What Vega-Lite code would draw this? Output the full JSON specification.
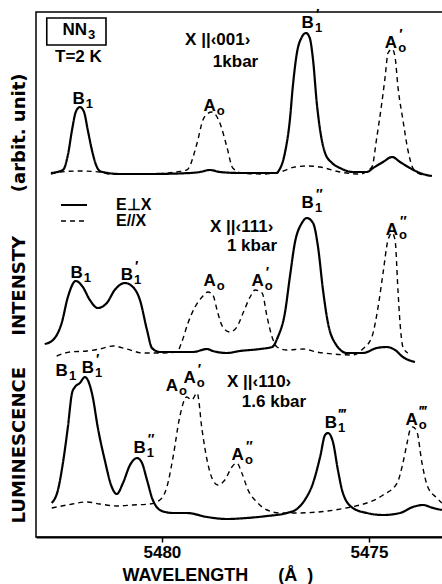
{
"$schema":"https://vega.github.io/schema/vega-lite/v6.json",
"width":410,"height":525,
"autosize":"none",
"padding":{"left":36,"top":12,"right":0,"bottom":47},
"background":"white",
"config":{"view":{"stroke":"black","strokeWidth":1.5},"font":"Liberation Sans",
"legend":{"orient":"none","legendX":30,"legendY":185,"title":null,"symbolType":"M-2,0L2,0","symbolSize":169,"symbolStrokeColor":"black","labelFontSize":16,"labelFont":"Liberation Sans","labelFontWeight":"bold","labelColor":"black","rowPadding":0,"padding":0}},
"datasets":{
"spectra":[
{"p":"a","pol":"E⊥X","w":5482.68,"i":364},{"p":"a","pol":"E⊥X","w":5482.39,"i":367},{"p":"a","pol":"E⊥X","w":5482.27,"i":382},{"p":"a","pol":"E⊥X","w":5482.17,"i":407},{"p":"a","pol":"E⊥X","w":5482.08,"i":425},{"p":"a","pol":"E⊥X","w":5481.98,"i":430},{"p":"a","pol":"E⊥X","w":5481.88,"i":425},{"p":"a","pol":"E⊥X","w":5481.79,"i":407},{"p":"a","pol":"E⊥X","w":5481.69,"i":387},{"p":"a","pol":"E⊥X","w":5481.59,"i":372},{"p":"a","pol":"E⊥X","w":5481.50,"i":366},{"p":"a","pol":"E⊥X","w":5481.30,"i":364},{"p":"a","pol":"E⊥X","w":5481.01,"i":363},{"p":"a","pol":"E⊥X","w":5480.29,"i":363},{"p":"a","pol":"E⊥X","w":5479.32,"i":364},{"p":"a","pol":"E⊥X","w":5479.08,"i":365},{"p":"a","pol":"E⊥X","w":5478.84,"i":367},{"p":"a","pol":"E⊥X","w":5478.60,"i":365},{"p":"a","pol":"E⊥X","w":5478.12,"i":364},{"p":"a","pol":"E⊥X","w":5477.22,"i":364},{"p":"a","pol":"E⊥X","w":5477.20,"i":365},{"p":"a","pol":"E⊥X","w":5477.03,"i":384},{"p":"a","pol":"E⊥X","w":5476.91,"i":417},{"p":"a","pol":"E⊥X","w":5476.84,"i":450},{"p":"a","pol":"E⊥X","w":5476.74,"i":484},{"p":"a","pol":"E⊥X","w":5476.62,"i":500},{"p":"a","pol":"E⊥X","w":5476.52,"i":504},{"p":"a","pol":"E⊥X","w":5476.43,"i":499},{"p":"a","pol":"E⊥X","w":5476.35,"i":477},{"p":"a","pol":"E⊥X","w":5476.26,"i":434},{"p":"a","pol":"E⊥X","w":5476.18,"i":407},{"p":"a","pol":"E⊥X","w":5476.06,"i":384},{"p":"a","pol":"E⊥X","w":5475.89,"i":374},{"p":"a","pol":"E⊥X","w":5475.70,"i":369},{"p":"a","pol":"E⊥X","w":5475.39,"i":365},{"p":"a","pol":"E⊥X","w":5475.05,"i":365},{"p":"a","pol":"E⊥X","w":5474.90,"i":369},{"p":"a","pol":"E⊥X","w":5474.66,"i":375},{"p":"a","pol":"E⊥X","w":5474.44,"i":380},{"p":"a","pol":"E⊥X","w":5474.25,"i":375},{"p":"a","pol":"E⊥X","w":5474.01,"i":369},{"p":"a","pol":"E⊥X","w":5473.77,"i":364},{"p":"a","pol":"E⊥X","w":5473.48,"i":361},
{"p":"a","pol":"E//X","w":5482.68,"i":363},{"p":"a","pol":"E//X","w":5482.46,"i":365},{"p":"a","pol":"E//X","w":5481.98,"i":366},{"p":"a","pol":"E//X","w":5481.50,"i":365},{"p":"a","pol":"E//X","w":5481.26,"i":363},{"p":"a","pol":"E//X","w":5480.29,"i":363},{"p":"a","pol":"E//X","w":5479.40,"i":367},{"p":"a","pol":"E//X","w":5479.15,"i":394},{"p":"a","pol":"E//X","w":5479.01,"i":417},{"p":"a","pol":"E//X","w":5478.91,"i":423},{"p":"a","pol":"E//X","w":5478.79,"i":425},{"p":"a","pol":"E//X","w":5478.60,"i":414},{"p":"a","pol":"E//X","w":5478.43,"i":390},{"p":"a","pol":"E//X","w":5478.29,"i":369},{"p":"a","pol":"E//X","w":5478.07,"i":364},{"p":"a","pol":"E//X","w":5477.58,"i":363},{"p":"a","pol":"E//X","w":5477.15,"i":365},{"p":"a","pol":"E//X","w":5476.79,"i":370},{"p":"a","pol":"E//X","w":5476.50,"i":371},{"p":"a","pol":"E//X","w":5476.18,"i":370},{"p":"a","pol":"E//X","w":5475.70,"i":365},{"p":"a","pol":"E//X","w":5475.22,"i":363},{"p":"a","pol":"E//X","w":5474.93,"i":370},{"p":"a","pol":"E//X","w":5474.81,"i":400},{"p":"a","pol":"E//X","w":5474.69,"i":434},{"p":"a","pol":"E//X","w":5474.61,"i":460},{"p":"a","pol":"E//X","w":5474.54,"i":484},{"p":"a","pol":"E//X","w":5474.44,"i":488},{"p":"a","pol":"E//X","w":5474.37,"i":480},{"p":"a","pol":"E//X","w":5474.30,"i":450},{"p":"a","pol":"E//X","w":5474.18,"i":417},{"p":"a","pol":"E//X","w":5474.06,"i":387},{"p":"a","pol":"E//X","w":5473.94,"i":369},{"p":"a","pol":"E//X","w":5473.77,"i":363},{"p":"a","pol":"E//X","w":5473.48,"i":361},
{"p":"b","pol":"E⊥X","w":5482.83,"i":193},{"p":"b","pol":"E⊥X","w":5482.63,"i":197},{"p":"b","pol":"E⊥X","w":5482.42,"i":214},{"p":"b","pol":"E⊥X","w":5482.27,"i":240},{"p":"b","pol":"E⊥X","w":5482.08,"i":256},{"p":"b","pol":"E⊥X","w":5481.91,"i":250},{"p":"b","pol":"E⊥X","w":5481.74,"i":237},{"p":"b","pol":"E⊥X","w":5481.55,"i":229},{"p":"b","pol":"E⊥X","w":5481.33,"i":234},{"p":"b","pol":"E⊥X","w":5481.14,"i":247},{"p":"b","pol":"E⊥X","w":5480.89,"i":254},{"p":"b","pol":"E⊥X","w":5480.70,"i":250},{"p":"b","pol":"E⊥X","w":5480.53,"i":237},{"p":"b","pol":"E⊥X","w":5480.36,"i":207},{"p":"b","pol":"E⊥X","w":5480.24,"i":189},{"p":"b","pol":"E⊥X","w":5480.05,"i":185},{"p":"b","pol":"E⊥X","w":5479.64,"i":185},{"p":"b","pol":"E⊥X","w":5479.25,"i":185},{"p":"b","pol":"E⊥X","w":5478.91,"i":188},{"p":"b","pol":"E⊥X","w":5478.77,"i":186},{"p":"b","pol":"E⊥X","w":5478.43,"i":184},{"p":"b","pol":"E⊥X","w":5478.12,"i":186},{"p":"b","pol":"E⊥X","w":5477.63,"i":188},{"p":"b","pol":"E⊥X","w":5477.34,"i":190},{"p":"b","pol":"E⊥X","w":5477.20,"i":200},{"p":"b","pol":"E⊥X","w":5477.03,"i":224},{"p":"b","pol":"E⊥X","w":5476.91,"i":260},{"p":"b","pol":"E⊥X","w":5476.79,"i":294},{"p":"b","pol":"E⊥X","w":5476.62,"i":314},{"p":"b","pol":"E⊥X","w":5476.50,"i":319},{"p":"b","pol":"E⊥X","w":5476.35,"i":314},{"p":"b","pol":"E⊥X","w":5476.23,"i":290},{"p":"b","pol":"E⊥X","w":5476.11,"i":247},{"p":"b","pol":"E⊥X","w":5475.99,"i":214},{"p":"b","pol":"E⊥X","w":5475.82,"i":194},{"p":"b","pol":"E⊥X","w":5475.53,"i":184},{"p":"b","pol":"E⊥X","w":5475.15,"i":184},{"p":"b","pol":"E⊥X","w":5474.81,"i":189},{"p":"b","pol":"E⊥X","w":5474.57,"i":190},{"p":"b","pol":"E⊥X","w":5474.37,"i":187},{"p":"b","pol":"E⊥X","w":5474.18,"i":180},{"p":"b","pol":"E⊥X","w":5473.89,"i":175},
{"p":"b","pol":"E//X","w":5482.54,"i":181},{"p":"b","pol":"E//X","w":5482.22,"i":185},{"p":"b","pol":"E//X","w":5481.81,"i":186},{"p":"b","pol":"E//X","w":5481.50,"i":188},{"p":"b","pol":"E//X","w":5481.18,"i":191},{"p":"b","pol":"E//X","w":5480.85,"i":188},{"p":"b","pol":"E//X","w":5480.46,"i":184},{"p":"b","pol":"E//X","w":5480.05,"i":184},{"p":"b","pol":"E//X","w":5479.64,"i":185},{"p":"b","pol":"E//X","w":5479.52,"i":195},{"p":"b","pol":"E//X","w":5479.37,"i":214},{"p":"b","pol":"E//X","w":5479.20,"i":230},{"p":"b","pol":"E//X","w":5479.03,"i":240},{"p":"b","pol":"E//X","w":5478.89,"i":245},{"p":"b","pol":"E//X","w":5478.77,"i":242},{"p":"b","pol":"E//X","w":5478.65,"i":224},{"p":"b","pol":"E//X","w":5478.53,"i":210},{"p":"b","pol":"E//X","w":5478.36,"i":205},{"p":"b","pol":"E//X","w":5478.19,"i":210},{"p":"b","pol":"E//X","w":5478.04,"i":224},{"p":"b","pol":"E//X","w":5477.87,"i":240},{"p":"b","pol":"E//X","w":5477.75,"i":247},{"p":"b","pol":"E//X","w":5477.58,"i":244},{"p":"b","pol":"E//X","w":5477.46,"i":220},{"p":"b","pol":"E//X","w":5477.34,"i":200},{"p":"b","pol":"E//X","w":5477.22,"i":190},{"p":"b","pol":"E//X","w":5476.98,"i":187},{"p":"b","pol":"E//X","w":5476.59,"i":188},{"p":"b","pol":"E//X","w":5476.26,"i":185},{"p":"b","pol":"E//X","w":5475.87,"i":183},{"p":"b","pol":"E//X","w":5475.39,"i":182},{"p":"b","pol":"E//X","w":5475.15,"i":188},{"p":"b","pol":"E//X","w":5474.93,"i":200},{"p":"b","pol":"E//X","w":5474.78,"i":230},{"p":"b","pol":"E//X","w":5474.66,"i":264},{"p":"b","pol":"E//X","w":5474.54,"i":297},{"p":"b","pol":"E//X","w":5474.44,"i":304},{"p":"b","pol":"E//X","w":5474.37,"i":297},{"p":"b","pol":"E//X","w":5474.30,"i":247},{"p":"b","pol":"E//X","w":5474.25,"i":214},{"p":"b","pol":"E//X","w":5474.18,"i":190},{"p":"b","pol":"E//X","w":5474.06,"i":184},
{"p":"c","pol":"E⊥X","w":5482.66,"i":34},{"p":"c","pol":"E⊥X","w":5482.51,"i":47},{"p":"c","pol":"E⊥X","w":5482.39,"i":74},{"p":"c","pol":"E⊥X","w":5482.27,"i":110},{"p":"c","pol":"E⊥X","w":5482.17,"i":144},{"p":"c","pol":"E⊥X","w":5482.10,"i":150},{"p":"c","pol":"E⊥X","w":5481.98,"i":154},{"p":"c","pol":"E⊥X","w":5481.86,"i":160},{"p":"c","pol":"E⊥X","w":5481.79,"i":157},{"p":"c","pol":"E⊥X","w":5481.67,"i":140},{"p":"c","pol":"E⊥X","w":5481.55,"i":110},{"p":"c","pol":"E⊥X","w":5481.38,"i":77},{"p":"c","pol":"E⊥X","w":5481.21,"i":50},{"p":"c","pol":"E⊥X","w":5481.09,"i":43},{"p":"c","pol":"E⊥X","w":5480.94,"i":54},{"p":"c","pol":"E⊥X","w":5480.77,"i":72},{"p":"c","pol":"E⊥X","w":5480.60,"i":79},{"p":"c","pol":"E⊥X","w":5480.48,"i":74},{"p":"c","pol":"E⊥X","w":5480.36,"i":57},{"p":"c","pol":"E⊥X","w":5480.22,"i":37},{"p":"c","pol":"E⊥X","w":5480.00,"i":26},{"p":"c","pol":"E⊥X","w":5479.73,"i":24},{"p":"c","pol":"E⊥X","w":5479.40,"i":24},{"p":"c","pol":"E⊥X","w":5478.91,"i":20},{"p":"c","pol":"E⊥X","w":5478.43,"i":18},{"p":"c","pol":"E⊥X","w":5477.95,"i":19},{"p":"c","pol":"E⊥X","w":5477.46,"i":21},{"p":"c","pol":"E⊥X","w":5476.98,"i":24},{"p":"c","pol":"E⊥X","w":5476.74,"i":28},{"p":"c","pol":"E⊥X","w":5476.55,"i":37},{"p":"c","pol":"E⊥X","w":5476.35,"i":54},{"p":"c","pol":"E⊥X","w":5476.18,"i":80},{"p":"c","pol":"E⊥X","w":5476.06,"i":102},{"p":"c","pol":"E⊥X","w":5475.99,"i":104},{"p":"c","pol":"E⊥X","w":5475.87,"i":95},{"p":"c","pol":"E⊥X","w":5475.75,"i":67},{"p":"c","pol":"E⊥X","w":5475.63,"i":44},{"p":"c","pol":"E⊥X","w":5475.39,"i":29},{"p":"c","pol":"E⊥X","w":5475.05,"i":24},{"p":"c","pol":"E⊥X","w":5474.66,"i":22},{"p":"c","pol":"E⊥X","w":5474.25,"i":24},{"p":"c","pol":"E⊥X","w":5473.94,"i":30},{"p":"c","pol":"E⊥X","w":5473.70,"i":32},{"p":"c","pol":"E⊥X","w":5473.45,"i":29},{"p":"c","pol":"E⊥X","w":5473.24,"i":27},
{"p":"c","pol":"E//X","w":5482.66,"i":29},{"p":"c","pol":"E//X","w":5482.29,"i":32},{"p":"c","pol":"E//X","w":5481.81,"i":35},{"p":"c","pol":"E//X","w":5481.50,"i":33},{"p":"c","pol":"E//X","w":5481.09,"i":31},{"p":"c","pol":"E//X","w":5480.70,"i":32},{"p":"c","pol":"E//X","w":5480.29,"i":33},{"p":"c","pol":"E//X","w":5480.05,"i":37},{"p":"c","pol":"E//X","w":5479.88,"i":50},{"p":"c","pol":"E//X","w":5479.73,"i":80},{"p":"c","pol":"E//X","w":5479.57,"i":120},{"p":"c","pol":"E//X","w":5479.40,"i":140},{"p":"c","pol":"E//X","w":5479.28,"i":137},{"p":"c","pol":"E//X","w":5479.15,"i":144},{"p":"c","pol":"E//X","w":5479.03,"i":107},{"p":"c","pol":"E//X","w":5478.91,"i":77},{"p":"c","pol":"E//X","w":5478.77,"i":57},{"p":"c","pol":"E//X","w":5478.65,"i":52},{"p":"c","pol":"E//X","w":5478.48,"i":57},{"p":"c","pol":"E//X","w":5478.31,"i":70},{"p":"c","pol":"E//X","w":5478.19,"i":74},{"p":"c","pol":"E//X","w":5478.07,"i":64},{"p":"c","pol":"E//X","w":5477.92,"i":47},{"p":"c","pol":"E//X","w":5477.71,"i":35},{"p":"c","pol":"E//X","w":5477.46,"i":27},{"p":"c","pol":"E//X","w":5477.15,"i":24},{"p":"c","pol":"E//X","w":5476.79,"i":24},{"p":"c","pol":"E//X","w":5475.22,"i":32},{"p":"c","pol":"E//X","w":5474.66,"i":42},{"p":"c","pol":"E//X","w":5474.32,"i":54},{"p":"c","pol":"E//X","w":5474.18,"i":74},{"p":"c","pol":"E//X","w":5474.08,"i":94},{"p":"c","pol":"E//X","w":5474.01,"i":107},{"p":"c","pol":"E//X","w":5473.94,"i":110},{"p":"c","pol":"E//X","w":5473.84,"i":105},{"p":"c","pol":"E//X","w":5473.72,"i":74},{"p":"c","pol":"E//X","w":5473.58,"i":50},{"p":"c","pol":"E//X","w":5473.36,"i":39},{"p":"c","pol":"E//X","w":5473.24,"i":34}
],
"labels":[
{"w":5481.86,"i":438,"m":"B","s":"1","pr":""},
{"w":5478.70,"i":431,"m":"A","s":"o","pr":""},
{"w":5476.33,"i":514,"m":"B","s":"1","pr":"′"},
{"w":5474.32,"i":494,"m":"A","s":"o","pr":"′"},
{"w":5481.91,"i":264,"m":"B","s":"1","pr":""},
{"w":5480.70,"i":262,"m":"B","s":"1","pr":"′"},
{"w":5478.70,"i":256,"m":"A","s":"o","pr":""},
{"w":5477.54,"i":256,"m":"A","s":"o","pr":"′"},
{"w":5476.33,"i":334,"m":"B","s":"1","pr":"″"},
{"w":5474.30,"i":307,"m":"A","s":"o","pr":"″"},
{"w":5482.27,"i":166,"m":"B","s":"1","pr":""},
{"w":5481.64,"i":169,"m":"B","s":"1","pr":"′"},
{"w":5479.61,"i":151,"m":"A","s":"o","pr":""},
{"w":5479.18,"i":159,"m":"A","s":"o","pr":"′"},
{"w":5480.39,"i":89,"m":"B","s":"1","pr":"″"},
{"w":5478.02,"i":82,"m":"A","s":"o","pr":"″"},
{"w":5475.77,"i":114,"m":"B","s":"1","pr":"‴"},
{"w":5473.82,"i":117,"m":"A","s":"o","pr":"‴"},
{"w":5481.81,"i":507,"m":"NN","s":"3","pr":""}
],
"notes":[
{"w":5479.44,"i":497,"t":"X ||‹001›"},
{"w":5478.77,"i":475,"t":"1kbar"},
{"w":5482.58,"i":480,"t":"T=2 K"},
{"w":5478.84,"i":310,"t":"X ||‹111›"},
{"w":5478.43,"i":291,"t":"1 kbar"},
{"w":5478.43,"i":155,"t":"X ||‹110›"},
{"w":5478.07,"i":135,"t":"1.6 kbar"}
],
"box":[{"w":5482.78,"w2":5481.35,"i":492,"i2":519}]
},
"encoding":{
"x":{"field":"w","type":"quantitative","scale":{"domain":[5473.14,5483.04],"reverse":true,"nice":false,"zero":false},
"axis":{"values":[5480,5475],"format":"d","grid":false,"title":"WAVELENGTH\u00a0\u00a0\u00a0\u00a0\u00a0\u00a0(Å\u00a0\u00a0)","titleFont":"Liberation Sans","titleFontSize":18,"titleFontWeight":"bold","titleColor":"black","titleX":86,"titleY":38,"titleAlign":"left","titleBaseline":"middle","labelFont":"Liberation Sans","labelFontSize":17,"labelFontWeight":"bold","labelColor":"black","labelPadding":2,"labelFlush":false,"tickColor":"black","tickSize":5,"tickWidth":1.5,"domainColor":"black","domainWidth":2}},
"y":{"field":"i","type":"quantitative","scale":{"domain":[0,525],"nice":false,"zero":false},
"axis":{"ticks":false,"labels":false,"domain":false,"grid":false,"title":"LUMINESCENCE\u00a0\u00a0\u00a0\u00a0\u00a0INTENSTY\u00a0\u00a0\u00a0\u00a0\u00a0\u00a0\u00a0(arbit.\u00a0unit)","titleFont":"DejaVu Sans","titleFontSize":18,"titleFontWeight":"bold","titleColor":"black","titleX":-17,"titleY":286,"titleAngle":-90,"titleAlign":"center","titleBaseline":"middle"}}
},
"layer":[
{"data":{"name":"spectra"},"mark":{"type":"line","interpolate":"monotone","color":"black"},
"encoding":{"detail":{"field":"p"},"order":{"field":"w","sort":"descending"},
"strokeDash":{"field":"pol","type":"nominal","scale":{"domain":["E⊥X","E//X"],"range":[[1,0],[5,4]]},"legend":{"labelOffset":22,"encode":{"labels":{"update":{"dx":{"value":12}}}}}},
"strokeWidth":{"field":"pol","type":"nominal","scale":{"domain":["E⊥X","E//X"],"range":[2.2,1.4]}}}},
{"data":{"name":"box"},"mark":{"type":"rect","fill":null,"fillOpacity":0,"stroke":"black","strokeWidth":1.6},
"encoding":{"x2":{"field":"w2"},"y2":{"field":"i2"}}},
{"data":{"name":"notes"},"mark":{"type":"text","align":"left","baseline":"middle","fontSize":17,"fontWeight":"bold","font":"Liberation Sans","color":"black"},
"encoding":{"text":{"field":"t"}}},
{"data":{"name":"labels"},"mark":{"type":"text","align":"right","baseline":"middle","fontSize":17,"fontWeight":"bold","font":"Liberation Sans","color":"black"},
"encoding":{"text":{"field":"m"}}},
{"data":{"name":"labels"},"mark":{"type":"text","align":"left","baseline":"middle","dx":1,"dy":5,"fontSize":13,"fontWeight":"bold","font":"Liberation Sans","color":"black"},
"encoding":{"text":{"field":"s"}}},
{"data":{"name":"labels"},"mark":{"type":"text","align":"left","baseline":"middle","dx":2,"dy":-8,"fontSize":14,"fontWeight":"bold","font":"Liberation Sans","color":"black"},
"encoding":{"text":{"field":"pr"}}}
]
}
